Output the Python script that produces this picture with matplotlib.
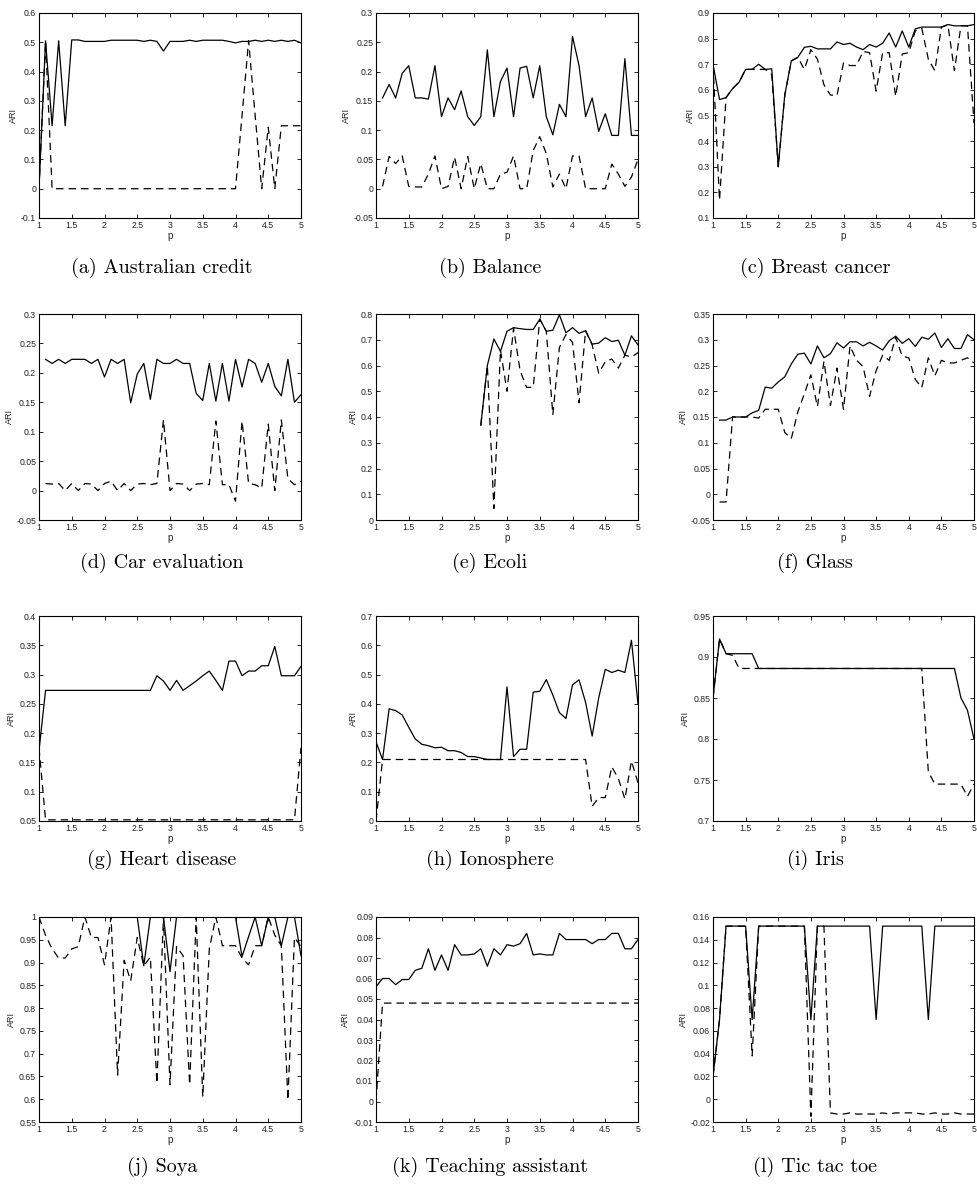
import numpy as np
import matplotlib
matplotlib.use("Agg")
import matplotlib.pyplot as plt
from matplotlib.ticker import FuncFormatter

plt.rcParams['font.family'] = ['Liberation Sans', 'DejaVu Sans']

# p grid used in every panel
P = [1.0, 1.1, 1.2, 1.3, 1.4, 1.5, 1.6, 1.7, 1.8, 1.9,
     2.0, 2.1, 2.2, 2.3, 2.4, 2.5, 2.6, 2.7, 2.8, 2.9,
     3.0, 3.1, 3.2, 3.3, 3.4, 3.5, 3.6, 3.7, 3.8, 3.9,
     4.0, 4.1, 4.2, 4.3, 4.4, 4.5, 4.6, 4.7, 4.8, 4.9, 5.0]

aus_solid = [0.0, 0.505, 0.215, 0.505, 0.215, 0.508, 0.508, 0.503, 0.503, 0.503,
             0.503, 0.507, 0.507, 0.507, 0.507, 0.507, 0.503, 0.507, 0.503, 0.470,
             0.503, 0.503, 0.503, 0.507, 0.503, 0.507, 0.507, 0.507, 0.507, 0.503,
             0.498, 0.503, 0.503, 0.507, 0.503, 0.507, 0.503, 0.507, 0.503, 0.507, 0.498]
aus_dash = [0.0, 0.505] + [0.0] * 29 + [0.25, 0.505, 0.25, 0.0, 0.21, 0.0, 0.215, 0.215, 0.215, 0.215]

bal_solid = [0.155, 0.178, 0.155, 0.197, 0.210, 0.155, 0.155, 0.153, 0.210, 0.123,
             0.155, 0.135, 0.167, 0.123, 0.108, 0.123, 0.237, 0.123, 0.183, 0.206,
             0.123, 0.206, 0.209, 0.155, 0.210, 0.123, 0.092, 0.144, 0.123, 0.260,
             0.210, 0.123, 0.155, 0.098, 0.128, 0.091, 0.091, 0.222, 0.091, 0.091]
bal_dash = [0.004, 0.055, 0.043, 0.056, 0.004, 0.003, 0.003, 0.025, 0.056, 0.0,
            0.004, 0.054, 0.0, 0.055, 0.0, 0.043, 0.0, 0.0, 0.025, 0.028,
            0.056, 0.0, 0.0, 0.065, 0.089, 0.060, 0.003, 0.025, 0.0, 0.056,
            0.056, 0.0, 0.0, 0.0, 0.0, 0.042, 0.025, 0.004, 0.020, 0.050]

bc_solid = [0.700, 0.562, 0.570, 0.605, 0.630, 0.680, 0.680, 0.700, 0.680, 0.682,
            0.300, 0.580, 0.713, 0.727, 0.766, 0.770, 0.760, 0.760, 0.760, 0.787,
            0.777, 0.782, 0.767, 0.757, 0.777, 0.767, 0.782, 0.822, 0.767, 0.830,
            0.767, 0.838, 0.845, 0.845, 0.845, 0.845, 0.855, 0.850, 0.850, 0.850, 0.855]
bc_dash = [0.700, 0.170, 0.570, 0.605, 0.630, 0.680, 0.680, 0.680, 0.680, 0.660,
           0.300, 0.580, 0.713, 0.727, 0.680, 0.757, 0.720, 0.620, 0.580, 0.578,
           0.705, 0.695, 0.695, 0.750, 0.745, 0.595, 0.745, 0.745, 0.575, 0.740,
           0.745, 0.830, 0.840, 0.720, 0.675, 0.845, 0.853, 0.675, 0.850, 0.850, 0.470]

car_solid = [0.223, 0.216, 0.223, 0.216, 0.223, 0.223, 0.223, 0.216, 0.223, 0.193,
             0.223, 0.216, 0.223, 0.149, 0.198, 0.216, 0.155, 0.223, 0.216, 0.216,
             0.223, 0.216, 0.216, 0.165, 0.153, 0.216, 0.152, 0.216, 0.152, 0.223,
             0.176, 0.223, 0.216, 0.184, 0.216, 0.177, 0.161, 0.223, 0.150, 0.163]
car_dash = [0.012, 0.011, 0.012, 0.0, 0.012, 0.0, 0.012, 0.011, 0.0, 0.012,
            0.016, 0.0, 0.012, 0.0, 0.011, 0.012, 0.010, 0.012, 0.120, 0.0,
            0.012, 0.011, 0.0, 0.011, 0.012, 0.010, 0.118, 0.010, 0.010, -0.018,
            0.118, 0.012, 0.010, 0.004, 0.113, 0.0, 0.120, 0.020, 0.010, 0.016]

eco_solid = [0.368, 0.600, 0.703, 0.655, 0.733, 0.747, 0.743, 0.740, 0.740, 0.780,
             0.733, 0.737, 0.797, 0.727, 0.747, 0.725, 0.735, 0.683, 0.687, 0.708,
             0.693, 0.698, 0.640, 0.715, 0.680]
eco_dash = [0.368, 0.600, 0.045, 0.660, 0.500, 0.745, 0.580, 0.515, 0.515, 0.780,
            0.733, 0.410, 0.670, 0.720, 0.690, 0.455, 0.735, 0.680, 0.570, 0.615,
            0.625, 0.590, 0.640, 0.633, 0.650]

gla_solid = [0.144, 0.144, 0.150, 0.150, 0.150, 0.158, 0.163, 0.208, 0.206, 0.218,
             0.228, 0.253, 0.272, 0.274, 0.253, 0.288, 0.265, 0.273, 0.294, 0.284,
             0.296, 0.296, 0.288, 0.295, 0.288, 0.280, 0.298, 0.307, 0.293, 0.302,
             0.287, 0.305, 0.301, 0.313, 0.285, 0.302, 0.283, 0.283, 0.310, 0.300]
gla_dash = [-0.015, -0.015, 0.150, 0.150, 0.150, 0.150, 0.148, 0.165, 0.165, 0.165,
            0.120, 0.108, 0.160, 0.195, 0.232, 0.170, 0.258, 0.172, 0.245, 0.165,
            0.288, 0.260, 0.248, 0.190, 0.240, 0.270, 0.260, 0.305, 0.268, 0.265,
            0.223, 0.207, 0.265, 0.230, 0.260, 0.255, 0.255, 0.260, 0.265, 0.255]

hea_solid = ([0.170] + [0.273] * 17 +
             [0.298, 0.289, 0.273, 0.290, 0.273, 0.281, 0.289, 0.298, 0.306, 0.290,
              0.273, 0.323, 0.323, 0.298, 0.306, 0.306, 0.315, 0.315, 0.348, 0.298,
              0.298, 0.298, 0.314])
hea_dash = [0.175] + [0.052] * 39 + [0.175]

ion_solid = [0.270, 0.210, 0.383, 0.377, 0.362, 0.320, 0.280, 0.262, 0.257, 0.250,
             0.252, 0.240, 0.240, 0.234, 0.220, 0.220, 0.215, 0.210, 0.210, 0.210,
             0.458, 0.220, 0.245, 0.245, 0.440, 0.443, 0.483, 0.430, 0.370, 0.350,
             0.465, 0.482, 0.405, 0.290, 0.420, 0.518, 0.507, 0.515, 0.507, 0.617, 0.400]
ion_dash = [0.0] + [0.21] * 32 + [0.050, 0.080, 0.080, 0.185, 0.145, 0.075, 0.205, 0.130]

iris_solid = [0.850, 0.922] + [0.904] * 5 + [0.886] * 31 + [0.850, 0.835, 0.800]
iris_dash = [0.850, 0.922, 0.904, 0.902] + [0.886] * 29 + [0.760] + [0.745] * 5 + [0.730, 0.745]

soy_solid = ([1.0] * 16 + [0.893] + [1.0] * 3 + [0.880] + [1.0] * 10 +
             [0.913, 0.957, 1.0, 0.937, 1.0, 1.0, 0.937, 1.0, 1.0, 0.915])
soy_dash = [1.0, 0.960, 0.930, 0.910, 0.910, 0.930, 0.935, 1.0, 0.955, 0.955,
            0.895, 1.0, 0.653, 0.905, 0.860, 0.955, 0.893, 0.912, 0.635, 1.0,
            0.632, 0.935, 0.915, 0.632, 1.0, 0.605, 0.930, 1.0, 0.937, 0.937,
            0.937, 0.910, 0.895, 0.937, 0.937, 1.0, 0.960, 0.937, 0.598, 0.955, 0.935]

ta_solid = [0.056, 0.060, 0.060, 0.057, 0.0595, 0.0595, 0.064, 0.065, 0.0745, 0.064,
            0.0715, 0.064, 0.0765, 0.0715, 0.0715, 0.072, 0.0745, 0.066, 0.0745, 0.0715,
            0.0765, 0.0758, 0.077, 0.082, 0.0715, 0.072, 0.0715, 0.0715, 0.082, 0.079,
            0.079, 0.079, 0.079, 0.077, 0.079, 0.079, 0.082, 0.082, 0.0745, 0.0745, 0.079]
ta_dash = [0.0] + [0.048] * 40

ttt_solid = ([0.020, 0.070] + [0.152] * 4 + [0.070] + [0.152] * 8 + [0.070] +
             [0.152] * 9 + [0.070] + [0.152] * 7 + [0.070] + [0.152] * 7)
ttt_dash = ([0.020, 0.070] + [0.152] * 4 + [0.038] + [0.152] * 8 + [-0.015, 0.152, 0.152] +
            [-0.012, -0.013, -0.013, -0.012, -0.013, -0.013, -0.013, -0.013, -0.012, -0.013,
             -0.012, -0.012, -0.012, -0.012, -0.013, -0.013, -0.012, -0.013, -0.013, -0.012,
             -0.013, -0.013, -0.013])

captions = ['(a) Australian credit', '(b) Balance', '(c) Breast cancer',
            '(d) Car evaluation', '(e) Ecoli', '(f) Glass',
            '(g) Heart disease', '(h) Ionosphere', '(i) Iris',
            '(j) Soya', '(k) Teaching assistant', '(l) Tic tac toe']

panels = [
    (P, aus_solid, P, aus_dash, (-0.1, 0.6), 0.1),
    (P[1:], bal_solid, P[1:], bal_dash, (-0.05, 0.3), 0.05),
    (P, bc_solid, P, bc_dash, (0.1, 0.9), 0.1),
    (P[1:], car_solid, P[1:], car_dash, (-0.05, 0.3), 0.05),
    (P[16:], eco_solid, P[16:], eco_dash, (0.0, 0.8), 0.1),
    (P[1:], gla_solid, P[1:], gla_dash, (-0.05, 0.35), 0.05),
    (P, hea_solid, P, hea_dash, (0.05, 0.4), 0.05),
    (P, ion_solid, P, ion_dash, (0.0, 0.7), 0.1),
    (P, iris_solid, P, iris_dash, (0.7, 0.95), 0.05),
    (P, soy_solid, P, soy_dash, (0.55, 1.0), 0.05),
    (P, ta_solid, P, ta_dash, (-0.01, 0.09), 0.01),
    (P, ttt_solid, P, ttt_dash, (-0.02, 0.16), 0.02),
]

W, H = 977, 1198
col_x = [(39, 301), (376, 638), (713, 974)]
row_y = [(13, 218), (314, 520), (616, 821), (917, 1122)]
cap_x = [162, 490, 815]
cap_y = [268, 563, 860, 1167]

fmt = FuncFormatter(lambda v, pos: ('%g' % round(v, 4)))

fig = plt.figure(figsize=(W / 100, H / 100), dpi=100)
for i, (xs, ys, xd, yd, ylim, step) in enumerate(panels):
    r, c = divmod(i, 3)
    x0, x1 = col_x[c]
    y0, y1 = row_y[r]
    ax = fig.add_axes([x0 / W, 1 - y1 / H, (x1 - x0) / W, (y1 - y0) / H])
    ax.plot(xs, ys, color='black', lw=0.9)
    ax.plot(xd, yd, color='black', lw=0.9, linestyle=(0, (6, 4)))
    ax.set_xlim(1, 5)
    ax.set_ylim(*ylim)
    ax.set_xticks(np.arange(1, 5.01, 0.5))
    ax.set_yticks(np.arange(ylim[0], ylim[1] + step / 2, step))
    ax.xaxis.set_major_formatter(fmt)
    ax.yaxis.set_major_formatter(fmt)
    ax.tick_params(direction='in', length=3, width=0.6, labelsize=6.3,
                   top=True, right=True, pad=2, labelcolor='#222222')
    for s in ax.spines.values():
        s.set_linewidth(0.8)
    ax.set_xlabel('p', fontsize=7, labelpad=1, color='#222222')
    ax.set_ylabel('ARI', fontsize=6.5, labelpad=2, color='#222222')
    fig.text(cap_x[c] / W, 1 - cap_y[r] / H, captions[i], family='cmr10',
             fontsize=14.5, ha='center', va='center')

fig.savefig('out.png', dpi=100)
